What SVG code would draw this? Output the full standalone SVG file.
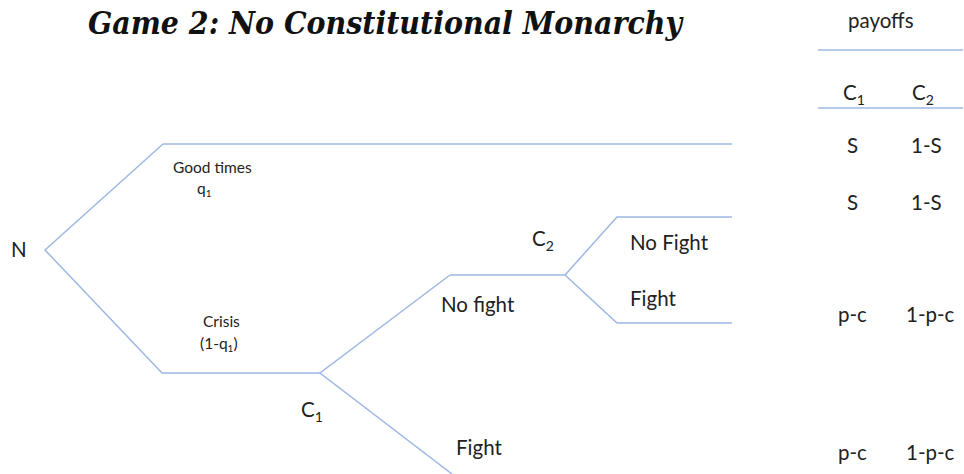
<svg xmlns="http://www.w3.org/2000/svg" width="964" height="474" viewBox="0 0 964 474">
<style>
.e{fill:none;stroke:#9db8e3;stroke-width:1.5}
.t{font-family:Lato,"Liberation Sans",sans-serif;fill:#222}
.s{font-size:15.5px}
.m{font-size:20.5px}
.sub{font-size:14px}
.ttl{font-family:"DejaVu Serif","Liberation Serif",serif;font-stretch:condensed;font-weight:bold;font-style:italic;font-size:32px;fill:#111}
</style>
<rect width="964" height="474" fill="#fff"/>
<text class="ttl" x="88" y="34" textLength="594" lengthAdjust="spacingAndGlyphs">Game 2: No Constitutional Monarchy</text>
<g id="connectors">
<polyline class="e" points="163,144 45,250 162,373 320,373"/>
<line class="e" x1="163" y1="144" x2="732" y2="144"/>
<polyline class="e" points="450,275 320,373 452,474"/>
<line class="e" x1="450" y1="275" x2="565" y2="275"/>
<polyline class="e" points="732,217 617,217 565,275 617,323 732,323"/>
</g>
<g id="N"><text class="t m" x="11" y="257">N</text></g>
<g id="good"><text class="t s" x="173" y="173">Good times</text><text class="t s" x="197" y="194">q<tspan font-size="10" dy="3">1</tspan></text></g>
<g id="crisis"><text class="t s" x="203" y="327">Crisis</text><text class="t s" x="200" y="349">(1-q<tspan font-size="10" dy="3">1</tspan><tspan dy="-3">)</tspan></text></g>
<g id="C1"><text class="t m" x="301" y="417">C<tspan class="sub" dy="5">1</tspan></text></g>
<g id="nofight"><text class="t m" x="441" y="312">No fight</text></g>
<g id="fight1"><text class="t m" x="456" y="455">Fight</text></g>
<g id="C2"><text class="t m" x="532" y="246">C<tspan class="sub" dy="5">2</tspan></text></g>
<g id="nofight2"><text class="t m" x="630" y="250">No Fight</text></g>
<g id="fight2"><text class="t m" x="630" y="306">Fight</text></g>
<g id="table">
<text class="t m" x="848" y="28">payoffs</text>
<line class="e" x1="818" y1="50" x2="963" y2="50"/>
<text class="t m" x="843" y="100">C<tspan class="sub" dy="5">1</tspan></text>
<text class="t m" x="912" y="100">C<tspan class="sub" dy="5">2</tspan></text>
<line class="e" x1="818" y1="108" x2="963" y2="108"/>
<text class="t m" x="847" y="153">S</text><text class="t m" x="911" y="153">1-S</text>
<text class="t m" x="847" y="210">S</text><text class="t m" x="911" y="210">1-S</text>
<text class="t m" x="838" y="322">p-c</text><text class="t m" x="906" y="322">1-p-c</text>
<text class="t m" x="838" y="460">p-c</text><text class="t m" x="906" y="460">1-p-c</text>
</g>
</svg>
